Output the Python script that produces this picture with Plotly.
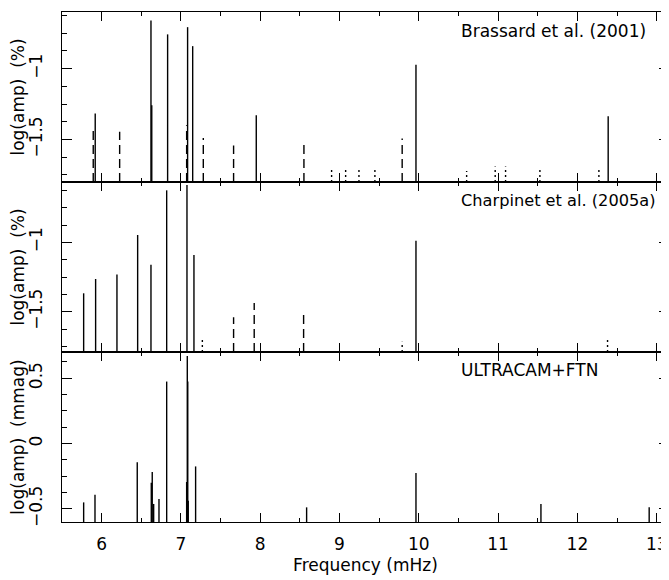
import plotly.graph_objects as go
from plotly.subplots import make_subplots

# ---------------- data (frequency in mHz, log amplitude) ----------------
brassard_solid_f = [5.919, 6.622, 6.632, 6.832, 7.084, 7.148, 7.950, 9.964, 12.388]
brassard_solid_v = [-1.317, -0.660, -1.258, -0.758, -0.707, -0.841, -1.329, -0.972, -1.336]
brassard_dash_f = [5.894, 6.227, 7.072, 7.282, 7.664, 8.551, 9.790]
brassard_dash_v = [-1.406, -1.446, -1.400, -1.489, -1.542, -1.538, -1.493]
brassard_dot_f = [8.900, 9.077, 9.245, 9.446, 10.603, 10.963, 11.094, 11.527, 12.271]
brassard_dot_v = [-1.700, -1.716, -1.710, -1.707, -1.723, -1.690, -1.690, -1.700, -1.704]

charpinet_solid_f = [5.773, 5.924, 6.193, 6.454, 6.622, 6.820, 7.076, 7.164, 9.964]
charpinet_solid_v = [-1.367, -1.264, -1.231, -0.947, -1.161, -0.625, -0.587, -1.091, -0.988]
charpinet_dash_f = [7.664, 7.924, 8.547]
charpinet_dash_v = [-1.540, -1.437, -1.517]
charpinet_dot_f = [7.270, 9.790, 12.380]
charpinet_dot_v = [-1.690, -1.716, -1.690]

ultracam_f = [5.773, 5.916, 6.449, 6.626, 6.638, 6.656, 6.723, 6.820, 7.072, 7.080,
              7.086, 7.092, 7.185, 8.585, 9.964, 11.540, 12.905]
ultracam_v = [-0.450, -0.391, -0.144, -0.300, -0.218, -0.462, -0.424, 0.474, -0.294, 0.670,
              0.474, -0.437, -0.175, -0.488, -0.225, -0.462, -0.488]

panel_labels = ["Brassard et al. (2001)", "Charpinet et al. (2005a)", "ULTRACAM+FTN"]
y_titles = ["log(amp)  (%)", "log(amp)  (%)", "log(amp)  (mmag)"]
x_title = "Frequency (mHz)"

x_range = [5.5, 13.155]
y_ranges = [[-1.80, -0.60], [-1.79, -0.565], [-0.60, 0.70]]
y_tickvals = [[-1.5, -1.0], [-1.5, -1.0], [-0.5, 0.0, 0.5]]
y_ticktext = [["\u22121.5", "\u22121"], ["\u22121.5", "\u22121"], ["\u22120.5", "0", "0.5"]]

FONT = "DejaVu Sans"
DASH = "9px,5px"
DOT = "2px,3px"


def stems(freqs, vals, base):
    xs, ys = [], []
    for f, v in zip(freqs, vals):
        xs += [f, f, None]
        ys += [base, v, None]
    return xs, ys


fig = make_subplots(rows=3, cols=1, shared_xaxes=True, vertical_spacing=0)

series = [
    (1, brassard_solid_f, brassard_solid_v, "solid"),
    (1, brassard_dash_f, brassard_dash_v, DASH),
    (1, brassard_dot_f, brassard_dot_v, DOT),
    (2, charpinet_solid_f, charpinet_solid_v, "solid"),
    (2, charpinet_dash_f, charpinet_dash_v, DASH),
    (2, charpinet_dot_f, charpinet_dot_v, DOT),
    (3, ultracam_f, ultracam_v, "solid"),
]
for row, f, v, dash in series:
    xs, ys = stems(f, v, y_ranges[row - 1][0])
    fig.add_trace(go.Scatter(x=xs, y=ys, mode="lines",
                             line=dict(color="black", width=1.4, dash=dash),
                             hoverinfo="skip", showlegend=False),
                  row=row, col=1)

for i in range(3):
    row = i + 1
    fig.update_yaxes(row=row, col=1, range=y_ranges[i], tickvals=y_tickvals[i],
                     ticktext=y_ticktext[i], tickangle=-90, automargin=False,
                     ticks="inside", ticklen=10, tickwidth=1.2, tickcolor="black",
                     minor=dict(tick0=-1, dtick=0.125, ticks="inside", ticklen=5,
                                tickwidth=1.2, tickcolor="black", showgrid=False),
                     showline=True, linecolor="black", linewidth=1, mirror="allticks",
                     showgrid=False, zeroline=False,
                     tickfont=dict(family=FONT, size=17, color="black"),
                     ticklabelstandoff=12,
                     title=dict(text=y_titles[i], font=dict(family=FONT, size=17, color="black"),
                                standoff=2))
    fig.update_xaxes(row=row, col=1, range=x_range, dtick=1, tick0=0, automargin=False,
                     ticks="inside", ticklen=9, tickwidth=1.2, tickcolor="black",
                     minor=dict(dtick=0.5, ticks="inside", ticklen=4, tickwidth=1.2,
                                tickcolor="black", showgrid=False),
                     showline=True, linecolor="black", linewidth=1, mirror="allticks",
                     showgrid=False, zeroline=False,
                     tickfont=dict(family=FONT, size=17, color="black"))

fig.update_xaxes(row=3, col=1, showticklabels=True, ticklabelstandoff=7,
                 title=dict(text=x_title, font=dict(family=FONT, size=17, color="black"),
                            standoff=5))

label_y = [0.963, 0.631, 0.298]
label_size = [17, 16.2, 17]
for i, txt in enumerate(panel_labels):
    fig.add_annotation(text=txt, xref="paper", yref="paper", x=0.654, y=label_y[i],
                       xanchor="left", yanchor="middle", showarrow=False,
                       font=dict(family=FONT, size=label_size[i], color="black"))

# page body has an 8px default margin; size the figure so the plot lands where the reference has it
fig.update_layout(width=661, height=572,
                  margin=dict(l=54, r=0, t=4, b=58),
                  paper_bgcolor="white", plot_bgcolor="white",
                  font=dict(family=FONT, color="black"))

fig.write_html("out.html")
